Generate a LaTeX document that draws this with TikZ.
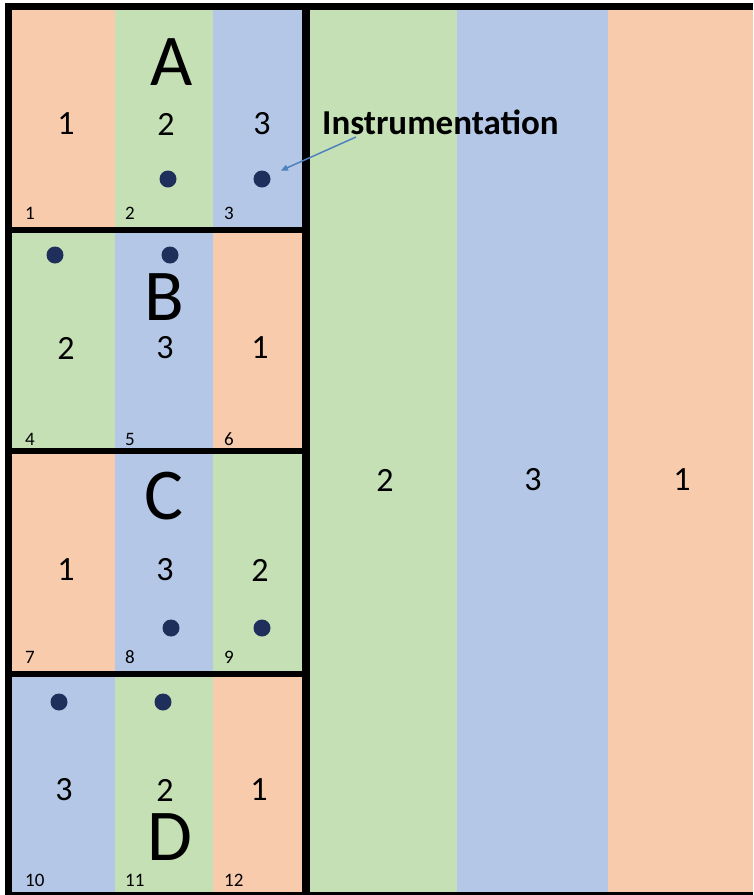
\documentclass[tikz,border=0pt]{standalone}
\usepackage{fontspec}
\setmainfont{Carlito}
\usetikzlibrary{arrows.meta}

\definecolor{stripO}{HTML}{F8CBAD}
\definecolor{stripG}{HTML}{C5E0B4}
\definecolor{stripB}{HTML}{B4C7E7}
\definecolor{probeC}{HTML}{1F2F5C}
\definecolor{arrC}{HTML}{4F81BD}

\begin{document}
\begin{tikzpicture}[x=1pt,y=-1pt,
  num/.style={font=\fontsize{34}{34}\selectfont,inner sep=0pt},
  tag/.style={font=\fontsize{19}{19}\selectfont,inner sep=0pt,anchor=west},
  big/.style={font=\fontsize{73}{73}\selectfont,inner sep=0pt},
  probe/.style={circle,fill=probeC,minimum size=17pt,inner sep=0pt},
  frame/.style={line width=7pt,black},
  arr/.style={-{Triangle[length=7pt,width=6pt]},line width=1.5pt,draw=arrC,shorten >=12pt}
]
\useasboundingbox (0,0) rectangle (753,895);

% panel A
\fill[stripO] (8,6) rectangle (115,230);
\fill[stripG] (115,6) rectangle (213,230);
\fill[stripB] (213,6) rectangle (306,230);
% panel B
\fill[stripG] (8,230) rectangle (115,451);
\fill[stripB] (115,230) rectangle (213,451);
\fill[stripO] (213,230) rectangle (306,451);
% panel C
\fill[stripO] (8,451) rectangle (115,674);
\fill[stripB] (115,451) rectangle (213,674);
\fill[stripG] (213,451) rectangle (306,674);
% panel D
\fill[stripB] (8,674) rectangle (115,895);
\fill[stripG] (115,674) rectangle (213,895);
\fill[stripO] (213,674) rectangle (306,895);
% full plot
\fill[stripG] (306,6) rectangle (457,895);
\fill[stripB] (457,6) rectangle (608,895);
\fill[stripO] (608,6) rectangle (753,895);

% borders
\draw[frame] (8.5,898) |- (753,6.5);
\draw[frame] (8.5,895) -- (753,895);
\draw[frame,line width=8pt] (306,6.5) -- (306,895);
\draw[frame,line width=6.5pt] (8.5,230) -- (306,230);
\draw[frame,line width=6.5pt] (8.5,451) -- (306,451);
\draw[frame,line width=6.5pt] (8.5,674) -- (306,674);

% block letters
\node[big] (lA) at (172,62) {A};
\node[big] (lB) at (164,297) {B};
\node[big] (lC) at (164,496) {C};
\node[big] (lD) at (170,837) {D};

% treatments
\node[num] (a1) at (66,124) {1};
\node[num] (a2) at (166,124) {2};
\node[num] (a3) at (262,124) {3};
\node[num] (b1) at (66,348) {2};
\node[num] (b2) at (165,348) {3};
\node[num] (b3) at (260,348) {1};
\node[num] (c1) at (66,570) {1};
\node[num] (c2) at (165,570) {3};
\node[num] (c3) at (260,570) {2};
\node[num] (d1) at (64,790) {3};
\node[num] (d2) at (165,790) {2};
\node[num] (d3) at (259,790) {1};
\node[num] (r1) at (385,480) {2};
\node[num] (r2) at (533,480) {3};
\node[num] (r3) at (682,480) {1};

% plot numbers
\node[tag] (p1) at (25,213) {1};
\node[tag] (p2) at (125,213) {2};
\node[tag] (p3) at (224,213) {3};
\node[tag] (p4) at (25,439) {4};
\node[tag] (p5) at (125,439) {5};
\node[tag] (p6) at (224,439) {6};
\node[tag] (p7) at (25,657) {7};
\node[tag] (p8) at (125,657) {8};
\node[tag] (p9) at (224,657) {9};
\node[tag] (p10) at (25,880) {10};
\node[tag] (p11) at (125,880) {11};
\node[tag] (p12) at (224,880) {12};

% instruments
\node[probe] (dA2) at (168,179) {};
\node[probe] (dA3) at (262,179) {};
\node[probe] (dB1) at (55,255) {};
\node[probe] (dB2) at (170,255) {};
\node[probe] (dC2) at (171,628) {};
\node[probe] (dC3) at (262,628) {};
\node[probe] (dD1) at (59,702) {};
\node[probe] (dD2) at (163,702) {};

\node[font=\bfseries\fontsize{35}{35}\selectfont,anchor=base west,inner sep=0pt]
  (instr) at (322,134) {Instrumentation};
\coordinate (lead) at (356,137);
\draw[arr] (lead) -- (dA3);
\end{tikzpicture}
\end{document}
